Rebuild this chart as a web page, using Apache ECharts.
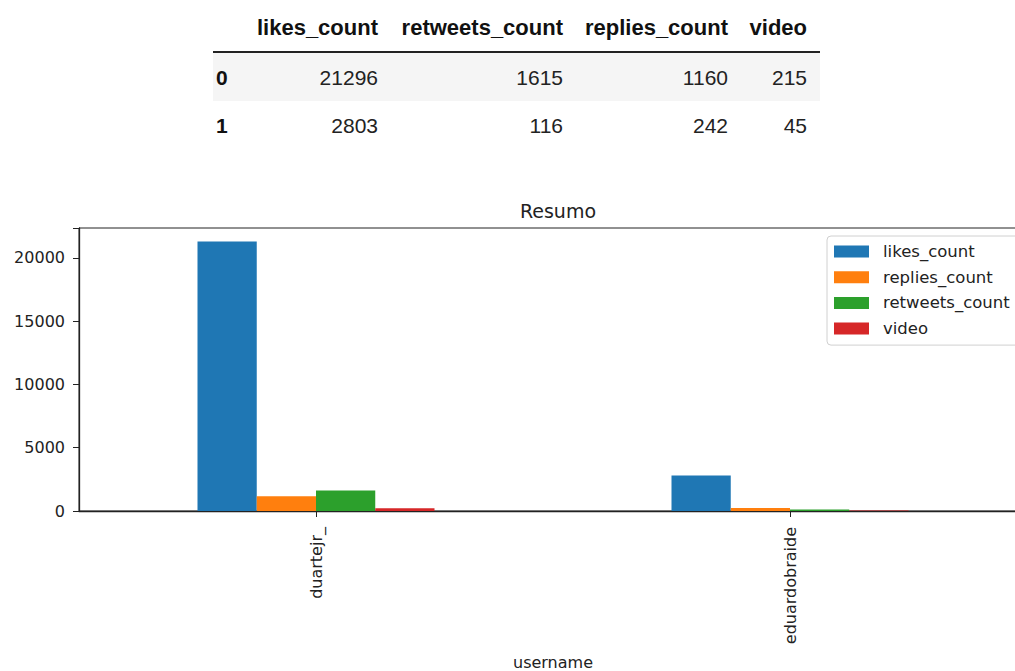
<!DOCTYPE html>
<html>
<head>
<meta charset="utf-8">
<script src="https://cdn.jsdelivr.net/npm/echarts@6/dist/echarts.min.js"></script>
<style>
  html, body { margin: 0; padding: 0; background: #fff; overflow: hidden; }
  #wrap { position: relative; width: 1015px; height: 671px; overflow: hidden; }
  #chart { position: absolute; left: 0; top: 0; width: 1015px; height: 671px; }
  #table { position: absolute; left: 0; top: 0; width: 1015px; height: 160px; font-family: "Liberation Sans", Arial, sans-serif; color: #111; }
  .cell { position: absolute; white-space: nowrap; }
</style>
</head>
<body>
<div id="wrap">
  <div id="chart"></div>
  <div id="table"></div>
</div>
<script>
// ---- data ----
const categories = ['duartejr_', 'eduardobraide'];
const likes_count = [21296, 2803];
const replies_count = [1160, 242];
const retweets_count = [1615, 116];
const video = [215, 45];
const seriesNames = ['likes_count', 'replies_count', 'retweets_count', 'video'];
const tableColumns = ['likes_count', 'retweets_count', 'replies_count', 'video'];
const tableIndex = ['0', '1'];
const yTicks = [0, 5000, 10000, 15000, 20000];
const chartTitle = 'Resumo';
const xAxisName = 'username';

const valuesByName = { likes_count, replies_count, retweets_count, video };
const colors = ['#1f77b4', '#ff7f0e', '#2ca02c', '#d62728'];

// ---- table (pandas-like) ----
(function buildTable() {
  const t = document.getElementById('table');
  const colRight = [378, 563, 728, 807];
  const add = (txt, css) => {
    const d = document.createElement('div');
    d.className = 'cell';
    d.textContent = txt;
    Object.assign(d.style, css);
    t.appendChild(d);
  };
  const bg = document.createElement('div');
  Object.assign(bg.style, { position: 'absolute', left: '213px', top: '53px', width: '607px', height: '48px', background: '#f5f5f5' });
  t.appendChild(bg);
  const ln = document.createElement('div');
  Object.assign(ln.style, { position: 'absolute', left: '213px', top: '51px', width: '607px', height: '2px', background: '#222' });
  t.appendChild(ln);
  tableColumns.forEach((c, i) => {
    add(c, { left: (colRight[i] - 300) + 'px', width: '300px', textAlign: 'right', top: '17px', fontSize: '22px', lineHeight: '22px', fontWeight: 'bold' });
  });
  const rowTops = [67, 115];
  tableIndex.forEach((idx, r) => {
    add(idx, { left: '216px', top: rowTops[r] + 'px', fontSize: '21px', lineHeight: '21px', fontWeight: 'bold' });
    tableColumns.forEach((c, i) => {
      add(String(valuesByName[c][r]), { left: (colRight[i] - 300) + 'px', width: '300px', textAlign: 'right', top: rowTops[r] + 'px', fontSize: '21px', lineHeight: '21px', color: '#222' });
    });
  });
})();

// ---- chart ----
const chart = echarts.init(document.getElementById('chart'), null, { renderer: 'svg' });
const font = "'DejaVu Sans', sans-serif";
const yMax = Math.max(...likes_count, ...replies_count, ...retweets_count, ...video) * 1.05;

chart.setOption({
  animation: false,
  title: {
    text: chartTitle,
    left: 553,
    top: 196,
    textAlign: 'center',
    textStyle: { fontFamily: font, fontSize: 19, fontWeight: 'normal', color: '#222' }
  },
  grid: {
    left: 79, top: 228, bottom: 160, right: -12,
    outerBoundsMode: 'none',
    show: true, borderColor: '#222', borderWidth: 1, backgroundColor: 'transparent',
    containLabel: false
  },
  legend: {
    data: seriesNames,
    orient: 'vertical',
    left: 827, top: 236,
    itemWidth: 35, itemHeight: 12, itemGap: 8.7,
    icon: 'rect',
    padding: [7, 30, 8, 7],
    backgroundColor: '#fff',
    borderColor: '#d0d0d0', borderWidth: 1, borderRadius: 4,
    textStyle: { fontFamily: font, fontSize: 16.5, color: '#222', lineHeight: 16, padding: [0, 0, 0, 9] }
  },
  xAxis: {
    type: 'category',
    data: categories,
    boundaryGap: true,
    name: xAxisName,
    nameLocation: 'middle',
    nameGap: 143,
    nameTextStyle: { fontFamily: font, fontSize: 16, color: '#222' },
    axisLine: { show: true, lineStyle: { color: '#222', width: 1.3 } },
    axisTick: { show: true, alignWithLabel: true, length: 6, lineStyle: { color: '#222' } },
    axisLabel: { rotate: 90, margin: 16, fontFamily: font, fontSize: 16, color: '#222' },
    splitLine: { show: false }
  },
  yAxis: {
    type: 'value',
    min: 0,
    max: yMax,
    interval: 5000,
    axisLine: { show: true, lineStyle: { color: '#222', width: 1.3 } },
    axisTick: { show: true, length: 6, lineStyle: { color: '#222' } },
    axisLabel: {
      margin: 14, fontFamily: font, fontSize: 16, color: '#222',
      formatter: v => (yTicks.indexOf(v) >= 0 ? String(v) : '')
    },
    splitLine: { show: false }
  },
  series: seriesNames.map((n, i) => ({
    name: n,
    type: 'bar',
    data: valuesByName[n],
    barGap: '0%',
    barCategoryGap: '50%',
    itemStyle: { color: colors[i] }
  }))
});
</script>
</body>
</html>
